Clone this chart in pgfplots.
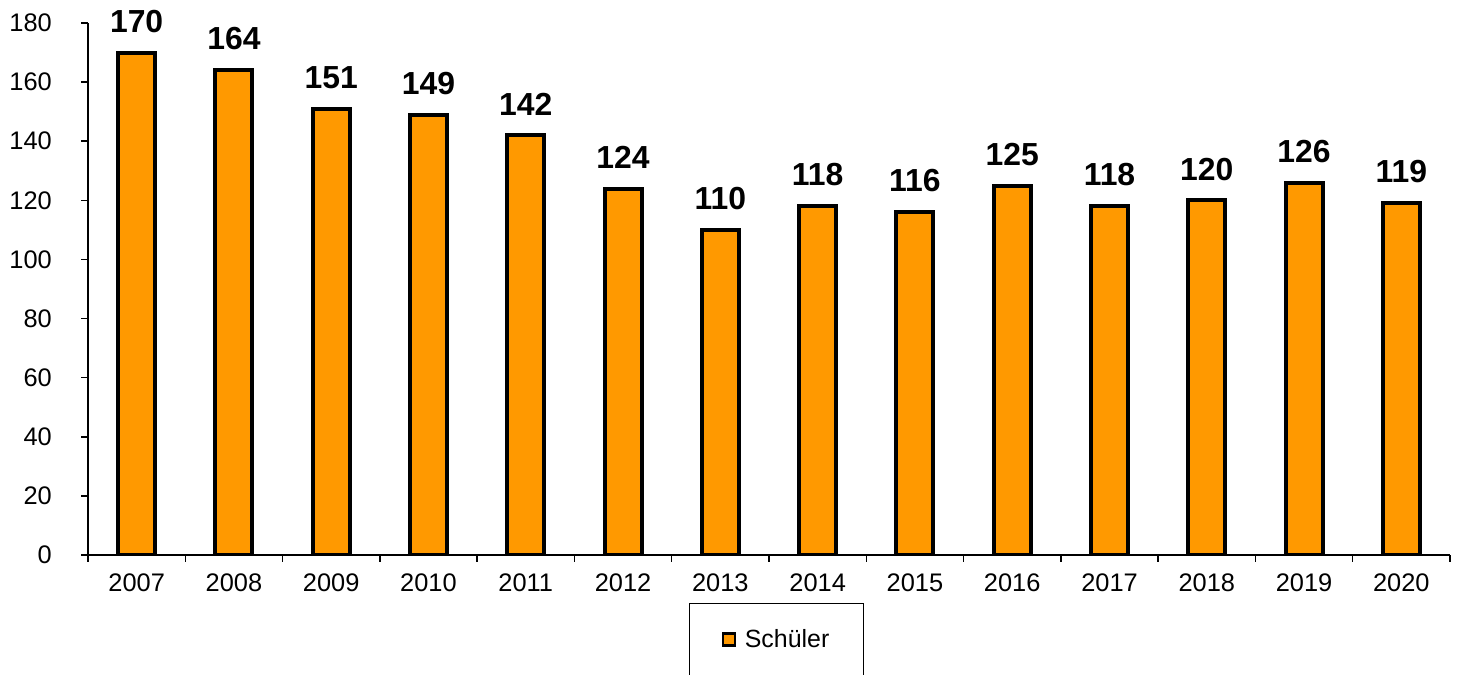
\documentclass[border=0pt]{standalone}
\usepackage{fontspec}
\setmainfont{Liberation Sans}
\usepackage{pgfplots}
\pgfplotsset{compat=1.18}
\definecolor{barorange}{RGB}{255,153,0}

\begin{document}
\begin{tikzpicture}
  \useasboundingbox (0,0) rectangle (1458bp,675bp);
  \clip (0,0) rectangle (1458bp,675bp);
  \begin{axis}[
    at={(88bp,120bp)}, anchor=south west,
    scale only axis,
    width=1362bp, height=532bp,
    axis lines*=left,
    axis line style={line width=1.5bp},
    xmin=-0.5, xmax=13.5,
    ymin=0, ymax=180,
    ytick={0,20,...,180},
    xtick={0,...,13},
    xticklabels={2007,2008,2009,2010,2011,2012,2013,2014,2015,2016,2017,2018,2019,2020},
    minor xtick={-0.5,0.5,...,13.5},
    tick align=outside,
    major tick length=7bp,
    minor tick length=7bp,
    major x tick style={draw=none},
    tick style={line width=1.5bp, black},
    /pgf/number format/assume math mode=true,
    ticklabel style={font=\fontsize{25.5}{30}\selectfont},
    yticklabel style={inner sep=0pt, xshift=-29bp},
    xticklabel style={inner sep=0pt, yshift=-12bp},
    ybar,
    bar width=37bp,
    nodes near coords,
    every node near coord/.append style={font=\fontsize{32}{38}\selectfont\bfseries, inner sep=0pt, yshift=18bp, black},
    legend style={at={(0.5055,-0.0902)}, anchor=north, draw=black, line width=1.2bp,
      inner xsep=32bp, inner ysep=24bp, font=\fontsize{25}{30}\selectfont},
    legend image code/.code={
      \path[draw=none, fill=none] (0bp,0bp) -- (20bp,0bp);
      \draw[fill=barorange, draw=black, line width=2.5bp] (0bp,-6bp) rectangle (12bp,6bp);},
  ]
    \addplot[fill=barorange, draw=black, line width=4bp]
      coordinates {(0,170) (1,164) (2,151) (3,149) (4,142) (5,124) (6,110)
                   (7,118) (8,116) (9,125) (10,118) (11,120) (12,126) (13,119)};
    \addlegendentry{Schüler}
  \end{axis}
\end{tikzpicture}
\end{document}
